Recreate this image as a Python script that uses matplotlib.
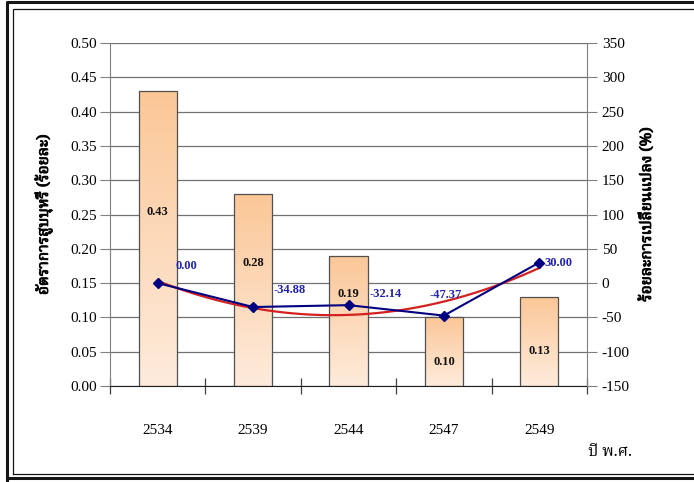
import numpy as np
import matplotlib
matplotlib.use("Agg")
import matplotlib.pyplot as plt
from matplotlib import font_manager
from matplotlib.ft2font import FT2Font
from matplotlib.lines import Line2D
from matplotlib.colors import LinearSegmentedColormap
import matplotlib.patheffects as pe

years = ["2534", "2539", "2544", "2547", "2549"]
smoking_rate = [0.43, 0.28, 0.19, 0.10, 0.13]
pct_change = [0.00, -34.88, -32.14, -47.37, 30.00]

left_ticks = [0.00, 0.05, 0.10, 0.15, 0.20, 0.25, 0.30, 0.35, 0.40, 0.45, 0.50]
right_ticks = [-150, -100, -50, 0, 50, 100, 150, 200, 250, 300, 350]

LEFT_LABEL = "อัตราการสูบบุหรี่ (ร้อยละ)"
RIGHT_LABEL = "ร้อยละการเปลี่ยนแปลง (%)"
X_LABEL = "ปี พ.ศ."

# where the bar value labels sit (left axis units) and line label offsets (points)
BAR_LABEL_Y = [0.254, 0.179, 0.134, 0.035, 0.051]
LINE_LABEL_OFFSET = [(21, 12), (26, 12), (27, 8), (1, 15), (14, 0)]

NAVY = "#000080"
RED = "#D42020"
LABEL_BLUE = "#2222B0"


def find_thai_font():
    names = []
    for f in font_manager.fontManager.ttflist:
        try:
            if 0x0E2D in FT2Font(f.fname).get_charmap():
                names.append(f.name)
        except Exception:
            pass
    for pref in ["Noto Serif Thai", "Norasi", "Noto Sans Thai", "Loma", "Garuda"]:
        if pref in names:
            return pref
    return names[0] if names else "DejaVu Sans"


THAI = find_thai_font()
SERIF = "Liberation Serif"
thai_family = [THAI, SERIF, "DejaVu Sans"]
heavy = [pe.withStroke(linewidth=0.7, foreground="#111111")]

plt.rcParams["font.family"] = [SERIF, "DejaVu Sans"]

fig = plt.figure(figsize=(6.94, 4.82), dpi=100)
ax = fig.add_axes([110 / 694, 1 - 386 / 482, 477 / 694, 343 / 482])

x = np.arange(len(years))
bars = ax.bar(x, smoking_rate, width=0.4, facecolor="none",
              edgecolor="#505050", linewidth=0.9, zorder=3)

cmap = LinearSegmentedColormap.from_list("peach", ["#FEEBDC", "#FBC797"])
grad = np.linspace(0, 1, 256).reshape(-1, 1)
for rect in bars:
    x0 = rect.get_x()
    im = ax.imshow(grad, cmap=cmap, origin="lower", aspect="auto",
                   extent=(x0, x0 + rect.get_width(), 0, rect.get_height()),
                   zorder=2)
    im.set_clip_path(rect)

for xi, yl, v in zip(x, BAR_LABEL_Y, smoking_rate):
    ax.text(xi, yl, "%.2f" % v, ha="center", va="center", fontsize=9,
            fontweight="bold", color="#111111", zorder=5)

ax.set_xlim(-0.5, len(years) - 0.5)
ax.set_ylim(0, 0.5)
ax.set_yticks(left_ticks)
ax.set_yticklabels(["%.2f" % t for t in left_ticks])
ax.yaxis.grid(True, color="#707070", linewidth=0.9)
ax.set_axisbelow(True)

ax.set_xticks(np.arange(-0.5, len(years), 1.0))
ax.set_xticklabels([])
ax.set_xticks(x, minor=True)
ax.set_xticklabels(years, minor=True)
ax.tick_params(axis="x", which="major", direction="inout", length=11,
               color="#404040", width=0.9)
ax.tick_params(axis="x", which="minor", length=0, pad=27, labelsize=11)
ax.tick_params(axis="y", direction="out", length=7.2, color="#808080",
               pad=2.2, labelsize=11)

for side in ["top", "right"]:
    ax.spines[side].set_visible(False)
ax.spines["left"].set_color("#808080")
ax.spines["bottom"].set_color("#202020")

ax.set_ylabel(LEFT_LABEL, family=thai_family, fontsize=11, fontweight="bold",
              path_effects=heavy)
ax.yaxis.set_label_coords(-0.119, 0.5)

ax2 = ax.twinx()
ax2.set_ylim(-150, 350)
ax2.set_yticks(right_ticks)
ax2.set_yticklabels([str(t) for t in right_ticks])
ax2.tick_params(axis="y", direction="out", length=7.2, color="#808080",
                pad=3.4, labelsize=11)
for side in ["top", "left", "bottom"]:
    ax2.spines[side].set_visible(False)
ax2.spines["right"].set_color("#808080")

# second order polynomial trend, as Excel draws it
coef = np.polyfit(x, pct_change, 2)
xs = np.linspace(x[0], x[-1], 200)
ax2.plot(xs, np.polyval(coef, xs), color=RED, linewidth=1.6, zorder=3)
ax2.plot(x, pct_change, color=NAVY, linewidth=1.5, marker="D",
         markersize=5, zorder=4)

for xi, v, off in zip(x, pct_change, LINE_LABEL_OFFSET):
    ax2.annotate("%.2f" % v, (xi, v), xytext=off, textcoords="offset points",
                 ha="center", va="center", fontsize=9, fontweight="bold",
                 color=LABEL_BLUE, zorder=6)

ax2.set_ylabel(RIGHT_LABEL, family=thai_family, fontsize=11,
               fontweight="bold", rotation=90, path_effects=heavy)
ax2.yaxis.set_label_coords(1.109, 0.5)

ax.text(1.048, -0.19, X_LABEL, transform=ax.transAxes, family=thai_family,
        fontsize=11.5, ha="center", va="center")

# double frame around the chart
W, H = 694.0, 482.0
def px_line(xs_, ys_, lw):
    fig.add_artist(Line2D([v / W for v in xs_], [1 - v / H for v in ys_],
                          transform=fig.transFigure, color="#151515",
                          linewidth=lw))

px_line([7, 7, 700], [480, 2, 2], 2.2)
px_line([7, 700], [478, 478], 2.2)
px_line([13, 13, 700], [474, 9, 9], 0.9)
px_line([13, 700], [474, 474], 0.9)

fig.savefig("out.png", dpi=100)
